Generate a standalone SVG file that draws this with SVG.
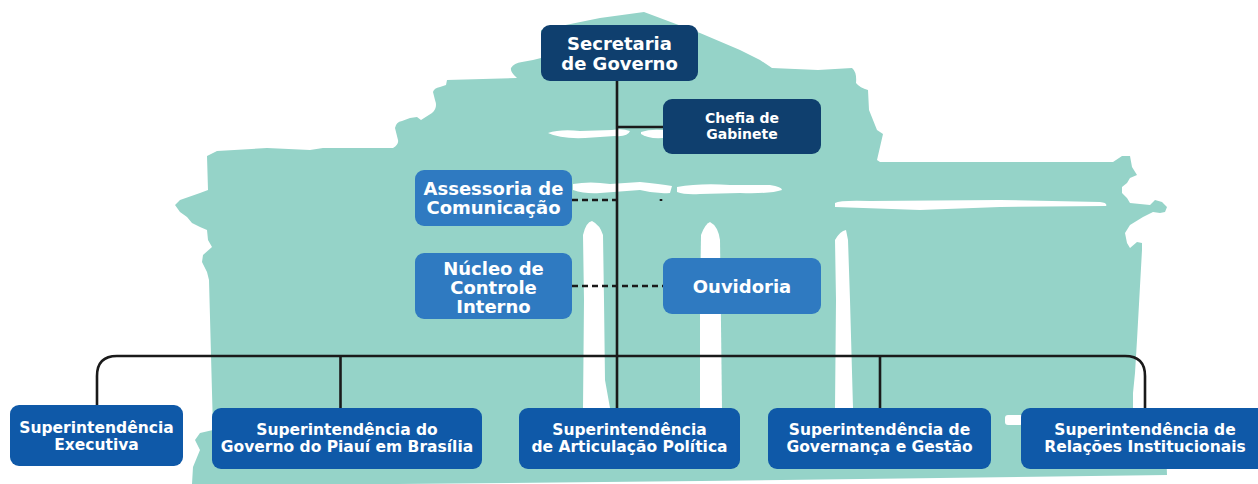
<svg xmlns="http://www.w3.org/2000/svg" width="1258" height="484" viewBox="0 0 1258 484">
<style>
.bg{fill:#95d3c8}
.cut{fill:#ffffff}
.line{fill:none;stroke:#1a1a1a;stroke-width:2.6}
.dash{fill:none;stroke:#1a1a1a;stroke-width:2.6;stroke-dasharray:6 4}
.navy{fill:#0f3f6e}
.mid{fill:#2f7ac1}
.sup{fill:#0f59a8}
text{font-family:"DejaVu Sans","Liberation Sans",sans-serif;font-weight:bold;fill:#ffffff;text-anchor:middle}
.t18{font-size:18px}
.t14{font-size:14px}
.t15{font-size:15.5px}
</style>
<rect x="0" y="0" width="1258" height="484" fill="#ffffff"/>
<g id="background">
<path class="bg" d="M207 156 L217 151 L267 148 L310 150 L323 148 L393 148 Q399 144 398 140 L395 128 Q396 122 402 121 L410 118 L417 117 L421 120 L432 113 Q438 108 435 100 L433 92 Q434 88 440 87 L446 85 L447 80 L517 78 Q510 72 511 68 Q514 63 522 62 L533 60 L541 58 L541 30 L600 18 L644 12 L700 33 L740 50 L760 60 L772 68 L818 70 L852 68 Q857 72 856 83 Q860 88 868 90 L869 110 L877 130 L883 134 L877 160 L880 162 L1113 162 L1122 156 L1130 156 L1132 167 L1137 175 L1130 178 L1127 183 L1122 187 L1122 193 L1127 198 L1130 203 L1150 205 L1155 200 L1162 202 L1167 207 L1165 212 L1160 213 L1153 212 L1143 217 L1130 225 L1125 233 L1127 243 L1130 248 L1137 242 L1142 243 L1142 250 L1137 340 L1135 373 L1133 393 L1133 410 L1165 420 L1167 475 L700 481 L195 486 L192 484 L193 467 L200 450 L195 440 L200 433 L213 430 L211 355 L209 280 L207 272 L202 262 L203 255 L212 247 L208 240 L207 230 L200 227 L192 223 L187 217 L180 212 L175 205 L180 200 L200 193 L208 190 Z"/>
<path class="cut" d="M548 133 Q560 129 580 131 L612 130 Q622 128 630 131 Q628 137 615 136 L585 138 Q560 139 548 133 Z"/>
<path class="cut" d="M641 132 Q650 129 663 130 L663 138 Q648 139 641 134 Z"/>
<path class="cut" d="M573 184 Q590 181 610 184 L640 182 Q660 184 672 186 L670 193 Q655 194 640 190 L600 193 Q585 194 573 190 Z"/>
<path class="cut" d="M677 187 Q700 183 730 185 L770 185 Q782 187 782 190 Q770 194 740 193 L700 194 Q685 195 677 192 Z"/>
<path class="cut" d="M835 203 Q840 200 870 201 L1000 200 L1100 202 Q1108 203 1106 206 L1000 207 L920 210 L835 207 Z"/>
<path class="cut" d="M583 408 L584 300 L583 235 Q586 222 592 221 Q600 225 603 235 L604 300 L605 380 L610 408 Z"/>
<path class="cut" d="M700 408 L700 300 L701 235 Q705 224 710 222 Q718 226 720 240 L722 408 Z"/>
<path class="cut" d="M835 408 L836 300 L835 240 Q840 231 846 230 L848 240 L850 300 L853 408 Z"/>
<rect class="cut" x="1005" y="415" width="18" height="10" rx="3"/>
</g>
<g id="connectors">
<path class="line" d="M617 81 V408"/>
<path class="line" d="M617 127 H663"/>
<path class="dash" d="M572 200 H617"/>
<path class="line" d="M661 199 V201"/>
<path class="dash" d="M572 286 H663"/>
<path class="line" d="M117 356 H1125 Q1145 356 1145 376 V408"/>
<path class="line" d="M117 356 Q97 356 97 376 V405"/>
<path class="line" d="M340.5 356 V408"/>
<path class="line" d="M880 356 V408"/>
</g>
<g id="secretaria">
<rect class="navy" x="541" y="25" width="157" height="56" rx="9"/>
<text class="t18" x="619.5" y="50">Secretaria</text>
<text class="t18" x="619.5" y="70">de Governo</text>
</g>
<g id="chefia">
<rect class="navy" x="663" y="99" width="158" height="55" rx="9"/>
<text class="t14" x="742" y="123">Chefia de</text>
<text class="t14" x="742" y="139">Gabinete</text>
</g>
<g id="assessoria">
<rect class="mid" x="415" y="170" width="157" height="56" rx="9"/>
<text class="t18" x="493.5" y="195">Assessoria de</text>
<text class="t18" x="493.5" y="214">Comunicação</text>
</g>
<g id="nucleo">
<rect class="mid" x="415" y="253" width="157" height="66" rx="9"/>
<text class="t18" x="493.5" y="275">Núcleo de</text>
<text class="t18" x="493.5" y="294">Controle</text>
<text class="t18" x="493.5" y="313">Interno</text>
</g>
<g id="ouvidoria">
<rect class="mid" x="663" y="258" width="158" height="56" rx="9"/>
<text class="t18" x="742" y="292.5">Ouvidoria</text>
</g>
<g id="executiva">
<rect class="sup" x="10" y="405" width="173" height="61" rx="9"/>
<text class="t15" x="96.5" y="432.5">Superintendência</text>
<text class="t15" x="96.5" y="449.5">Executiva</text>
</g>
<g id="brasilia">
<rect class="sup" x="212" y="408" width="270" height="61" rx="9"/>
<text class="t15" x="347" y="435">Superintendência do</text>
<text class="t15" x="347" y="452">Governo do Piauí em Brasília</text>
</g>
<g id="articulacao">
<rect class="sup" x="519" y="408" width="221" height="61" rx="9"/>
<text class="t15" x="629.5" y="435">Superintendência</text>
<text class="t15" x="629.5" y="452">de Articulação Política</text>
</g>
<g id="governanca">
<rect class="sup" x="768" y="408" width="223" height="61" rx="9"/>
<text class="t15" x="879.5" y="435">Superintendência de</text>
<text class="t15" x="879.5" y="452">Governança e Gestão</text>
</g>
<g id="relacoes">
<rect class="sup" x="1021" y="408" width="248" height="61" rx="9"/>
<text class="t15" x="1145" y="435">Superintendência de</text>
<text class="t15" x="1145" y="452">Relações Institucionais</text>
</g>
</svg>
